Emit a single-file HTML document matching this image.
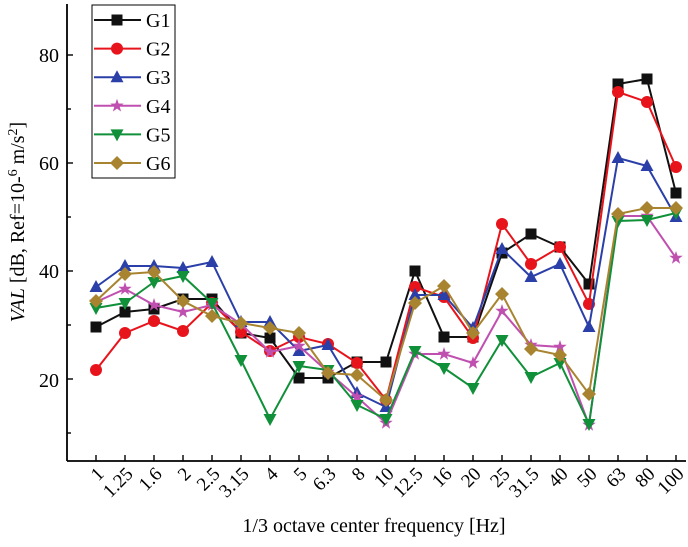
<!DOCTYPE html>
<html><head><meta charset="utf-8"><style>body{margin:0;background:#fff}svg{display:block}</style></head><body>
<svg width="688" height="547" xmlns="http://www.w3.org/2000/svg" font-family="Liberation Serif, serif">
<rect width="688" height="547" fill="#fff"/>
<g stroke="#000" stroke-width="1.8" fill="none">
<line x1="67" y1="4" x2="67" y2="461"/>
<line x1="67" y1="461" x2="686" y2="461"/>
</g>
<g stroke="#000" stroke-width="1.4" id="ticks"></g>
<g font-size="20" text-anchor="end">
<text x="59" y="62">80</text><text x="59" y="170">60</text><text x="59" y="278">40</text><text x="59" y="387">20</text>
</g>
<g font-size="19" text-anchor="end" id="xl"></g>
<text x="374" y="532" font-size="20" text-anchor="middle">1/3 octave center frequency [Hz]</text>
<text transform="translate(24,222) rotate(-90)" font-size="20" text-anchor="middle"><tspan font-style="italic">VAL</tspan> [dB, Ref=10-<tspan dy="-7" font-size="14">6</tspan><tspan dy="7"> m/s</tspan><tspan dy="-7" font-size="14">2</tspan><tspan dy="7">]</tspan></text>
<g id="series"></g>
<rect x="92" y="5" width="83" height="173" fill="#fff" stroke="#000" stroke-width="1"/>
<g id="leg" font-size="20"></g>
<script>
var ns="http://www.w3.org/2000/svg";
function el(t,a,p){var e=document.createElementNS(ns,t);for(var k in a)e.setAttribute(k,a[k]);(p||document.querySelector('svg')).appendChild(e);return e;}
var labs=["1","1.25","1.6","2","2.5","3.15","4","5","6.3","8","10","12.5","16","20","25","31.5","40","50","63","80","100"];
var T=document.getElementById('ticks'),XL=document.getElementById('xl');
for(var i=0;i<21;i++){var x=96+29*i;el('line',{x1:x,y1:461,x2:x,y2:455},T);
var t=el('text',{transform:'translate('+(x+9)+',475) rotate(-45)'},XL);t.textContent=labs[i];}
[55,163,271,379].forEach(function(y){el('line',{x1:67,y1:y,x2:73,y2:y},T)});
[109,217,325,433].forEach(function(y){el('line',{x1:67,y1:y,x2:71,y2:y},T)});
var S=[
["#111","sq",[327,312,309,299,299,333,338,378,378,362,362,271,337,337,253,234,247,284,84,79,193]],
["#e8141c","ci",[370,333,321,331,303,332,351,337,344,363,400,287,297,338,224,264,247,304,92,102,167]],
["#2b3fa8","tu",[287,266,266,268,262,322,322,351,345,393,407,295,295,328,249,277,264,327,158,166,217]],
["#c050b0","st",[302,289,305,312,305,324,352,346,372,397,423,354,354,363,311,345,347,425,216,216,258]],
["#11903a","td",[308,303,282,276,303,360,419,366,370,405,419,351,368,388,340,377,363,424,221,220,213]],
["#a88430","di",[301,274,272,301,316,323,328,333,373,375,400,303,286,333,294,349,355,394,214,208,208]]];
var G=document.getElementById('series'),L=document.getElementById('leg');
function mk(type,x,y,c,p){
 if(type=='sq')el('rect',{x:x-5.5,y:y-5.5,width:11,height:11,fill:c},p);
 else if(type=='ci')el('circle',{cx:x,cy:y,r:6,fill:c},p);
 else if(type=='tu')el('polygon',{points:(x)+','+(y-7)+' '+(x-6.5)+','+(y+5)+' '+(x+6.5)+','+(y+5),fill:c},p);
 else if(type=='td')el('polygon',{points:(x)+','+(y+7)+' '+(x-6.5)+','+(y-5)+' '+(x+6.5)+','+(y-5),fill:c},p);
 else if(type=='di')el('polygon',{points:x+','+(y-7)+' '+(x+7)+','+y+' '+x+','+(y+7)+' '+(x-7)+','+y,fill:c},p);
 else {var pts=[];for(var k=0;k<10;k++){var r=k%2?2.8:7,a=-Math.PI/2+k*Math.PI/5;pts.push((x+r*Math.cos(a)).toFixed(1)+','+(y+r*Math.sin(a)).toFixed(1));}el('polygon',{points:pts.join(' '),fill:c},p);}
}
S.forEach(function(s,j){
 var pts=s[2].map(function(y,i){return (96+29*i)+','+y}).join(' ');
 el('polyline',{points:pts,fill:'none',stroke:s[0],'stroke-width':2},G);
 s[2].forEach(function(y,i){mk(s[1],96+29*i,y,s[0],G)});
 var ly=20+28.6*j;
 el('line',{x1:94,y1:ly,x2:141,y2:ly,stroke:s[0],'stroke-width':2},L);
 mk(s[1],117,ly,s[0],L);
 var t=el('text',{x:146,y:ly+7},L);t.textContent='G'+(j+1);
});
</script>
</svg>
</body></html>
